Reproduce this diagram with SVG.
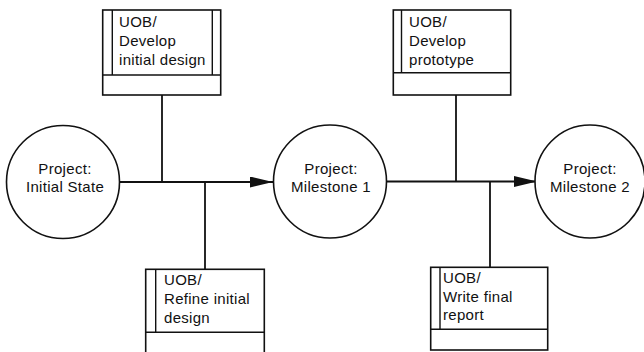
<svg xmlns="http://www.w3.org/2000/svg" width="644" height="352" viewBox="0 0 644 352">
  <style>
    .bg { fill: #ffffff; }
    .state { fill: #ffffff; stroke: #111; stroke-width: 1.6; }
    .box { fill: #ffffff; stroke: #111; stroke-width: 1.6; }
    .rule { stroke: #111; stroke-width: 1.4; fill: none; }
    .link { stroke: #111; stroke-width: 1.8; fill: none; }
    text { font-family: "Liberation Sans", Arial, Helvetica, sans-serif; font-size: 15px; letter-spacing: 0.3px; fill: #111; }
    .mid { text-anchor: middle; }
  </style>
  <defs>
    <marker id="arrow" markerUnits="userSpaceOnUse" markerWidth="24" markerHeight="12" refX="23" refY="5.5" orient="auto">
      <path d="M0,0 L23,5.5 L0,11 Z" fill="#111"/>
    </marker>
  </defs>

  <rect class="bg" x="0" y="0" width="644" height="352"/>

  <!-- connectors -->
  <g id="connectors">
    <line class="link" x1="119" y1="182" x2="273" y2="182" marker-end="url(#arrow)"/>
    <line class="link" x1="162" y1="95" x2="162" y2="182"/>
    <line class="link" x1="205" y1="182" x2="205" y2="269"/>
    <line class="link" x1="386" y1="181.5" x2="537" y2="181.5" marker-end="url(#arrow)"/>
    <line class="link" x1="456" y1="95" x2="456" y2="181.5"/>
    <line class="link" x1="490" y1="181.5" x2="490" y2="267"/>
  </g>

  <!-- project states -->
  <g id="state-initial">
    <circle class="state" cx="63" cy="182" r="56.5"/>
    <text class="mid" x="65" y="174">Project:</text>
    <text class="mid" x="65" y="192">Initial State</text>
  </g>
  <g id="state-milestone1">
    <circle class="state" cx="330" cy="181.5" r="56.5"/>
    <text class="mid" x="331" y="174">Project:</text>
    <text class="mid" x="331" y="192">Milestone 1</text>
  </g>
  <g id="state-milestone2">
    <ellipse class="state" cx="590" cy="181.5" rx="55" ry="56.5"/>
    <text class="mid" x="590" y="174">Project:</text>
    <text class="mid" x="590" y="192">Milestone 2</text>
  </g>

  <!-- activities -->
  <g id="act-develop-design">
    <rect class="box" x="102.7" y="10" width="118" height="85"/>
    <line class="rule" x1="102.7" y1="75" x2="220.7" y2="75"/>
    <line class="rule" x1="112.3" y1="10" x2="112.3" y2="75"/>
    <line class="rule" x1="212.3" y1="10" x2="212.3" y2="75"/>
    <text x="119" y="27">UOB/</text>
    <text x="119" y="46">Develop</text>
    <text x="119" y="65">initial design</text>
  </g>

  <g id="act-develop-prototype">
    <rect class="box" x="393.3" y="10" width="117.4" height="85"/>
    <line class="rule" x1="393.3" y1="72.7" x2="510.7" y2="72.7"/>
    <line class="rule" x1="401.5" y1="10" x2="401.5" y2="72.7" stroke-width="2.2"/>
    <text x="409" y="27">UOB/</text>
    <text x="409" y="46">Develop</text>
    <text x="409" y="65">prototype</text>
  </g>

  <g id="act-refine-design">
    <rect class="box" x="145.7" y="269.3" width="118.6" height="86"/>
    <line class="rule" x1="145.7" y1="332.3" x2="264.3" y2="332.3"/>
    <line class="rule" x1="155.7" y1="269.3" x2="155.7" y2="332.3"/>
    <text x="164" y="285">UOB/</text>
    <text x="164" y="304">Refine initial</text>
    <text x="164" y="322.5">design</text>
  </g>

  <g id="act-final-report">
    <rect class="box" x="430.7" y="267.3" width="117" height="82.7"/>
    <line class="rule" x1="430.7" y1="329.3" x2="547.7" y2="329.3"/>
    <line class="rule" x1="440" y1="267.3" x2="440" y2="329.3"/>
    <text x="443" y="283">UOB/</text>
    <text x="443" y="301.7">Write final</text>
    <text x="443" y="320">report</text>
  </g>
</svg>
